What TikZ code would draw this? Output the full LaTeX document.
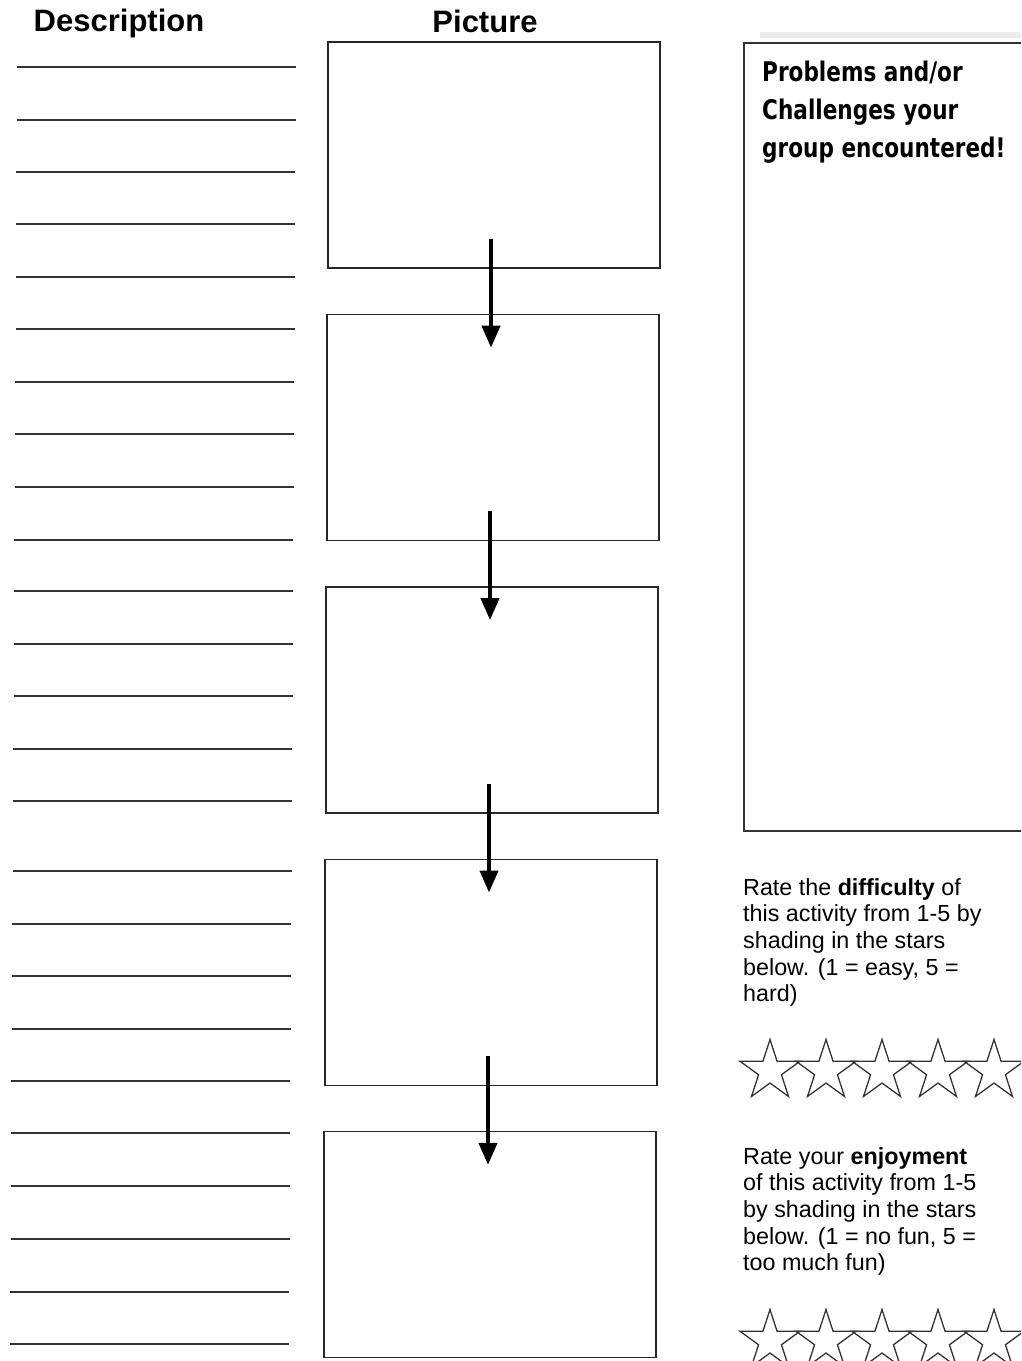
\documentclass[tikz,border=0pt]{standalone}
\usepackage{fontspec}
\setmainfont{Liberation Sans}
\newfontfamily\handfont[FakeStretch=0.8]{DejaVu Sans}
\usetikzlibrary{shapes.geometric,positioning,arrows.meta}

\begin{document}
\begin{tikzpicture}[
  x=1pt,y=-1pt,
  node distance=45pt and 45pt,
  picbox/.style={draw=black!85,line width=1.4pt,minimum width=332pt,minimum height=226pt,inner sep=0pt},
  probbox/.style={draw=black!80,line width=2pt,minimum width=300pt,minimum height=788pt,inner sep=0pt,anchor=north west},
  heading/.style={font=\fontsize{31}{36}\selectfont\bfseries,inner sep=0pt,anchor=base},
  rule/.style={draw=black!80,line width=1.4pt},
  flow/.style={line width=4pt,-{Triangle[length=22pt,width=18pt]}},
  ratetext/.style={font=\fontsize{23.3}{26.7}\selectfont,align=left,anchor=north west,inner sep=0pt},
  mystar/.style={draw=black!80,line width=1.3pt,star,star points=5,star point ratio=2.618,minimum size=63pt,inner sep=0pt}
]
\useasboundingbox (0,0) rectangle (1021,1361);
\fill[white] (0,0) rectangle (1021,1361);
\clip (0,0) rectangle (1021,1361);

% headings
\node[heading] (deschead) at (119,31) {Description};
\node[heading] (pichead) at (485,32) {Picture};

% lines for the description
\foreach \y in {67,120,172,224,277,329,382,434,487,540,591,644,696,749,801,871,924,976,1029,1081,1133,1186,1239,1292,1344}
  \draw[rule] ({17-0.0055*(\y-67)},\y) -- ++(279,0);

% picture boxes
\node[picbox] (pic1) at (494,155) {};
\node[picbox,below=of pic1,xshift=-1pt] (pic2) {};
\node[picbox,below=of pic2,xshift=-1pt] (pic3) {};
\node[picbox,below=of pic3,xshift=-1pt] (pic4) {};
\node[picbox,below=of pic4,xshift=-1pt] (pic5) {};

\foreach \a/\b in {1/2,2/3,3/4,4/5}
  \draw[flow] ([xshift=-3pt,yshift=30pt]pic\a.south) -- ([xshift=-2pt,yshift=-34pt]pic\b.north);

% problems box
\fill[black!12,opacity=.6] (760,32) rectangle (1021,38);
\node[probbox] (prob) at (743,42) {};
\node[font=\handfont\bfseries\fontsize{27}{38}\selectfont,align=left,anchor=north west,inner sep=0pt] (probtext) at (762,61)
  {Problems and/or\\Challenges your\\group encountered!};

% ratings
\node[ratetext] (difftext) at (743,878)
  {Rate the \textbf{difficulty} of\\this activity from 1-5 by\\shading in the stars\\below. (1 = easy, 5 =\\hard)};
\foreach \i in {1,...,5}
  \node[mystar] (d\i) at ({714+56*\i},1071) {};

\node[ratetext] (funtext) at (743,1147)
  {Rate your \textbf{enjoyment}\\of this activity from 1-5\\by shading in the stars\\below. (1 = no fun, 5 =\\too much fun)};
\foreach \i in {1,...,5}
  \node[mystar] (e\i) at ({714+56*\i},1341) {};

\end{tikzpicture}
\end{document}
